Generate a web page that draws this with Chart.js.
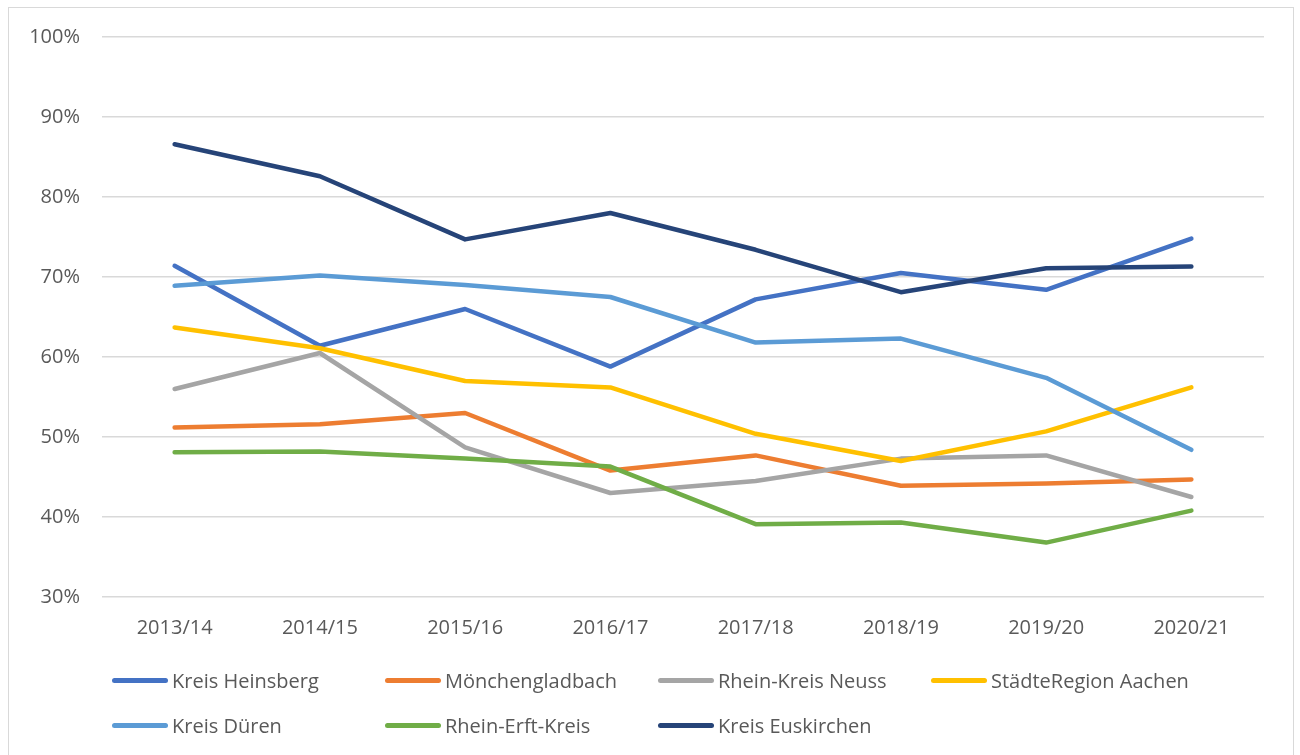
<!DOCTYPE html>
<html>
<head>
<meta charset="utf-8">
<script src="https://cdn.jsdelivr.net/npm/chart.js@4.4.1/dist/chart.umd.min.js"></script>
<style>
  body { margin: 0; background: #fff; font-family: "Open Sans", sans-serif; }
  #frame { position: absolute; left: 8px; top: 7px; width: 1284px; height: 800px; border: 1px solid #d9d9d9; }
  #chart { position: absolute; left: 0; top: 0; }
  #legend { position: absolute; left: 112px; top: 658px; display: grid;
    grid-template-columns: repeat(4, 273px); grid-auto-rows: 45px;
    color: #595959; font-size: 20px; }
  .item { display: flex; align-items: center; white-space: nowrap; }
  .swatch { width: 56px; height: 5px; border-radius: 3px; margin-right: 4px; }
</style>
</head>
<body>
<div id="frame"></div>
<canvas id="chart" width="1300" height="660"></canvas>
<div id="legend"></div>
<script>
// seasons on the x axis
const seasons = ['2013/14', '2014/15', '2015/16', '2016/17', '2017/18', '2018/19', '2019/20', '2020/21'];

// share in percent
const heinsberg  = [71.4, 61.4, 66.0, 58.8, 67.2, 70.5, 68.4, 74.8];
const moenchengl = [51.2, 51.6, 53.0, 45.8, 47.7, 43.9, 44.2, 44.7];
const neuss      = [56.0, 60.5, 48.7, 43.0, 44.5, 47.3, 47.7, 42.5];
const aachen     = [63.7, 61.1, 57.0, 56.2, 50.4, 47.0, 50.7, 56.2];
const dueren     = [68.9, 70.2, 69.0, 67.5, 61.8, 62.3, 57.4, 48.4];
const erftkreis  = [48.1, 48.2, 47.3, 46.3, 39.1, 39.3, 36.8, 40.8];
const euskirchen = [86.6, 82.6, 74.7, 78.0, 73.4, 68.1, 71.1, 71.3];

const names  = ['Kreis Heinsberg', 'Mönchengladbach', 'Rhein-Kreis Neuss', 'StädteRegion Aachen',
                'Kreis Düren', 'Rhein-Erft-Kreis', 'Kreis Euskirchen'];
const series = [heinsberg, moenchengl, neuss, aachen, dueren, erftkreis, euskirchen];
const colors = ['#4472C4', '#ED7D31', '#A5A5A5', '#FFC000', '#5B9BD5', '#70AD47', '#264478'];

const font = { family: '"Open Sans", sans-serif', size: 20 };

const datasets = series.map((vals, i) => ({
  label: names[i],
  data: vals,
  borderColor: colors[i],
  backgroundColor: colors[i],
  borderWidth: 4.5,
  pointRadius: 0,
  tension: 0,
  borderCapStyle: 'round',
  borderJoinStyle: 'round',
  order: series.length - i   // later series on top, like the original
}));

new Chart(document.getElementById('chart'), {
  type: 'line',
  data: { labels: seasons, datasets },
  options: {
    responsive: false,
    animation: false,
    devicePixelRatio: 1,
    layout: { padding: { top: 37, right: 36, left: 0, bottom: 0 } },
    plugins: { legend: { display: false }, tooltip: { enabled: false } },
    scales: {
      x: {
        offset: true,
        grid: { display: false, drawTicks: false },
        border: { display: false },
        ticks: { color: '#595959', font, padding: 19 },
        afterFit: s => { s.height = 63; }
      },
      y: {
        min: 30, max: 100,
        ticks: { stepSize: 10, color: '#595959', font, padding: 22, callback: v => v + '%' },
        grid: { color: '#d9d9d9', lineWidth: 1.5, drawTicks: false },
        border: { display: false },
        afterFit: s => { s.width = 102; }
      }
    }
  }
});

// legend in fixed columns like the original
const legend = document.getElementById('legend');
names.forEach((n, i) => {
  const item = document.createElement('div');
  item.className = 'item';
  item.innerHTML = `<span class="swatch" style="background:${colors[i]}"></span><span>${n}</span>`;
  legend.appendChild(item);
});
</script>
</body>
</html>
